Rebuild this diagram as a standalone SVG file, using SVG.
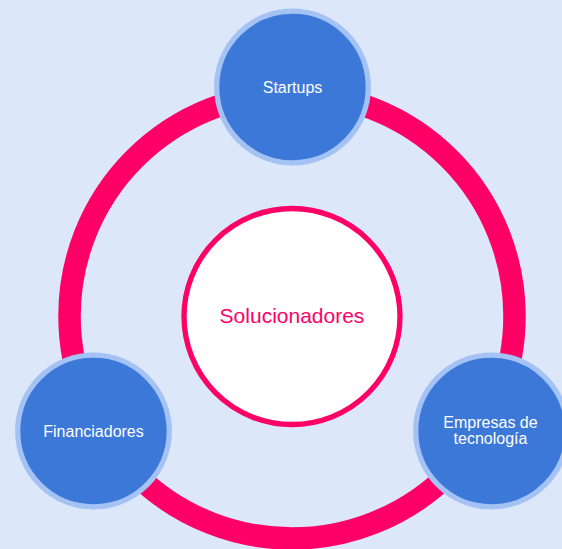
<svg xmlns="http://www.w3.org/2000/svg" width="562" height="549" viewBox="0 0 562 549">
  <style>
    .node circle { fill: #3c78d8; stroke: #a4c2f4; stroke-width: 5.3; }
    .node text { fill: #ffffff; font-family: "Liberation Sans", Arial, sans-serif; font-size: 16px; text-anchor: middle; }
    .hub circle { fill: #ffffff; stroke: #ff0066; stroke-width: 5.3; }
    .hub text { fill: #ff0066; font-family: "Liberation Sans", Arial, sans-serif; font-size: 21px; text-anchor: middle; }
    .ring { fill: none; stroke: #ff0066; stroke-width: 22.5; }
  </style>
  <rect x="0" y="0" width="562" height="549" fill="#dce8f9"/>
  <g id="connectors">
    <circle class="ring" cx="292" cy="316" r="222.5"/>
  </g>
  <g id="solucionadores" class="hub">
    <circle cx="292" cy="316.5" r="108"/>
    <text x="292" y="323.3">Solucionadores</text>
  </g>
  <g id="startups" class="node">
    <circle cx="292.5" cy="87" r="75.8"/>
    <text x="292.5" y="92.6">Startups</text>
  </g>
  <g id="financiadores" class="node">
    <circle cx="93.5" cy="431" r="75.8"/>
    <text x="93.5" y="436.6">Financiadores</text>
  </g>
  <g id="empresas" class="node">
    <circle cx="491.5" cy="431" r="75.8"/>
    <text x="490.5" y="428.3">Empresas de</text>
    <text x="490.5" y="444.4">tecnología</text>
  </g>
</svg>
